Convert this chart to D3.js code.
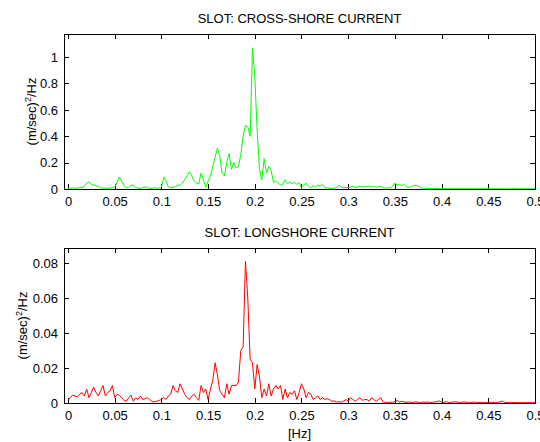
<!DOCTYPE html>
<html>
<head>
<meta charset="utf-8">
<script src="https://cdn.jsdelivr.net/npm/d3@7"></script>
<style>
  html, body { margin: 0; padding: 0; background: #fff; }
  svg { display: block; }
  text { font-family: "Liberation Sans", Arial, Helvetica, sans-serif; fill: #000; }
</style>
</head>
<body>
<svg id="chart" width="540" height="442"></svg>
<script>
// Frequency grid step for both spectra [Hz]
const freqStep = 0.0025;

// Cross-shore current spectral density, (m/sec)^2/Hz
const crossShore = [
  0.005,0.006,0.008,0.006,0.007,0.010,0.012,0.020,0.045,0.055,
  0.035,0.030,0.025,0.018,0.010,0.006,0.005,0.005,0.006,0.012,
  0.015,0.050,0.090,0.060,0.025,0.010,0.012,0.028,0.030,0.010,
  0.006,0.005,0.010,0.016,0.012,0.005,0.006,0.010,0.005,0.008,
  0.015,0.090,0.060,0.015,0.008,0.012,0.020,0.025,0.030,0.045,
  0.070,0.100,0.130,0.100,0.060,0.045,0.040,0.120,0.070,0.012,
  0.060,0.100,0.170,0.240,0.310,0.250,0.120,0.100,0.200,0.270,
  0.150,0.200,0.160,0.170,0.260,0.400,0.480,0.470,0.400,1.070,
  0.850,0.450,0.150,0.070,0.230,0.120,0.170,0.140,0.050,0.060,
  0.045,0.030,0.035,0.070,0.040,0.055,0.040,0.050,0.035,0.050,
  0.010,0.025,0.045,0.020,0.010,0.025,0.015,0.030,0.020,0.035,
  0.010,0.008,0.005,0.004,0.006,0.010,0.030,0.015,0.010,0.012,
  0.010,0.015,0.020,0.012,0.015,0.020,0.015,0.020,0.018,0.022,
  0.015,0.020,0.012,0.018,0.020,0.008,0.006,0.010,0.008,0.020,
  0.045,0.030,0.035,0.025,0.035,0.015,0.012,0.020,0.025,0.030,
  0.020,0.010,0.006,0.005,0.004,
  0.004,0.003,0.003,0.004,0.003,0.002,0.003,0.003,0.002,0.003,
  0.002,0.003,0.002,0.002,0.003,0.002,0.002,0.003,0.002,0.002,
  0.002,0.002,0.003,0.002,0.002,0.002,0.002,0.002,0.003,0.002,
  0.002,0.002,0.002,0.002,0.002,0.002,0.003,0.002,0.002,0.002,
  0.002,0.002,0.002,0.002,0.002,0.002
];

// Longshore current spectral density, (m/sec)^2/Hz
const longShore = [
  0.0015,0.003,0.0045,0.004,0.0035,0.005,0.006,0.004,0.008,0.003,
  0.006,0.009,0.006,0.004,0.007,0.010,0.004,0.006,0.007,0.010,
  0.003,0.005,0.0045,0.003,0.0015,0.001,0.003,0.0045,0.001,0.003,
  0.002,0.004,0.002,0.0025,0.003,0.002,0.0008,0.0007,0.001,0.0015,
  0.002,0.003,0.002,0.004,0.005,0.010,0.007,0.006,0.011,0.008,
  0.005,0.003,0.002,0.004,0.005,0.003,0.0015,0.010,0.006,0.008,
  0.002,0.008,0.013,0.023,0.016,0.007,0.005,0.003,0.011,0.005,
  0.010,0.010,0.010,0.012,0.030,0.032,0.081,0.060,0.025,0.023,
  0.008,0.022,0.015,0.003,0.008,0.004,0.011,0.004,0.008,0.010,
  0.008,0.010,0.002,0.008,0.003,0.006,0.005,0.007,0.002,0.006,
  0.011,0.008,0.003,0.006,0.005,0.002,0.003,0.004,0.002,0.003,
  0.002,0.0025,0.002,0.001,0.0012,0.0005,0.0008,0.0005,0.001,0.002,
  0.001,0.003,0.002,0.001,0.002,0.003,0.0015,0.002,0.002,0.001,
  0.003,0.002,0.001,0.002,0.003,0.0003,
  0.0004,0.0003,0.0005,0.0004,0.0008,0.0015,0.0006,0.001,0.0005,0.0004,
  0.0006,0.0004,0.0003,0.0007,0.0004,0.0003,0.0005,0.0004,0.0006,0.0003,
  0.0004,0.0006,0.0008,0.0012,0.0005,0.0004,0.0007,0.0003,0.0004,0.0005,
  0.0008,0.0004,0.0003,0.0005,0.0006,0.0003,0.0004,0.0003,0.0005,0.0003,
  0.0003,0.0004,0.0003,0.0002,0.0003,0.0004,0.0003,0.0002,0.0003,0.0006,
  0.0011,0.0004,0.0003,0.0002,0.0003,0.0002,0.0003,0.0002,0.0002,0.0003,
  0.0002,0.0002,0.0003,0.0002,0.0002
];

// Axis ticks and titles
const xTicks = [0, 0.05, 0.1, 0.15, 0.2, 0.25, 0.3, 0.35, 0.4, 0.45, 0.5];
const yTicksCross = [0, 0.2, 0.4, 0.6, 0.8, 1];
const yTicksLong = [0, 0.02, 0.04, 0.06, 0.08];
const titles = ["SLOT: CROSS-SHORE CURRENT", "SLOT: LONGSHORE CURRENT"];
const xLabel = "[Hz]";

const svg = d3.select("#chart");
const left = 64, right = 535;

const x = d3.scaleLinear().domain([-0.00428, 0.5]).range([left, right]);

function panel(opts) {
  const { top, bottom, yMax, yTicks, values, color, title, id, yLabelX } = opts;
  const y = d3.scaleLinear().domain([0, yMax]).range([bottom, top]);
  const g = svg.append("g");

  g.append("clipPath").attr("id", id)
    .append("rect").attr("x", left).attr("y", top)
    .attr("width", right - left).attr("height", bottom - top);

  const fmt = d => String(+d.toFixed(3));

  const styleAxis = sel => {
    sel.select(".domain").remove();
    sel.selectAll(".tick line").attr("stroke", "#000").attr("shape-rendering", "crispEdges");
    sel.selectAll("text").attr("font-size", 13)
      .attr("font-family", "'Liberation Sans', Arial, sans-serif").attr("fill", "#000");
  };

  g.append("g").attr("transform", `translate(0,${bottom})`)
    .call(d3.axisBottom(x).tickValues(xTicks).tickFormat(fmt).tickSizeInner(-5).tickSizeOuter(0).tickPadding(8))
    .call(styleAxis);
  g.append("g").attr("transform", `translate(0,${top})`)
    .call(d3.axisTop(x).tickValues(xTicks).tickFormat("").tickSizeInner(-5).tickSizeOuter(0))
    .call(styleAxis);
  g.append("g").attr("transform", `translate(${left},0)`)
    .call(d3.axisLeft(y).tickValues(yTicks).tickFormat(fmt).tickSizeInner(-5).tickSizeOuter(0).tickPadding(6))
    .call(styleAxis);
  g.append("g").attr("transform", `translate(${right},0)`)
    .call(d3.axisRight(y).tickValues(yTicks).tickFormat("").tickSizeInner(-5).tickSizeOuter(0))
    .call(styleAxis);

  g.append("path")
    .datum(values)
    .attr("clip-path", `url(#${id})`)
    .attr("fill", "none")
    .attr("stroke", color)
    .attr("stroke-width", 1)
    .attr("d", d3.line().x((d, i) => x(i * freqStep)).y(d => y(d)));

  g.append("rect")
    .attr("x", left + 0.5).attr("y", top + 0.5)
    .attr("width", right - left).attr("height", bottom - top)
    .attr("fill", "none").attr("stroke", "#000").attr("stroke-width", 1)
    .attr("shape-rendering", "crispEdges");

  g.append("text")
    .attr("x", (left + right) / 2).attr("y", top - 11)
    .attr("text-anchor", "middle").attr("font-size", 13)
    .text(title);

  const yl = g.append("text")
    .attr("transform", `translate(${yLabelX},${(top + bottom) / 2}) rotate(-90)`)
    .attr("text-anchor", "middle").attr("font-size", 13);
  yl.append("tspan").text("(m/sec)");
  yl.append("tspan").attr("dy", -5).attr("font-size", 9).text("2");
  yl.append("tspan").attr("dy", 5).text("/Hz");
}

panel({ top: 34, bottom: 189, yMax: 1.175, yTicks: yTicksCross, values: crossShore,
        color: "#00ff00", title: titles[0], id: "clipCross", yLabelX: 36 });
panel({ top: 248, bottom: 403, yMax: 0.0886, yTicks: yTicksLong, values: longShore,
        color: "#ff0000", title: titles[1], id: "clipLong", yLabelX: 27 });

svg.append("text")
  .attr("x", (left + right) / 2).attr("y", 438)
  .attr("text-anchor", "middle").attr("font-size", 13)
  .text(xLabel);
</script>
</body>
</html>
